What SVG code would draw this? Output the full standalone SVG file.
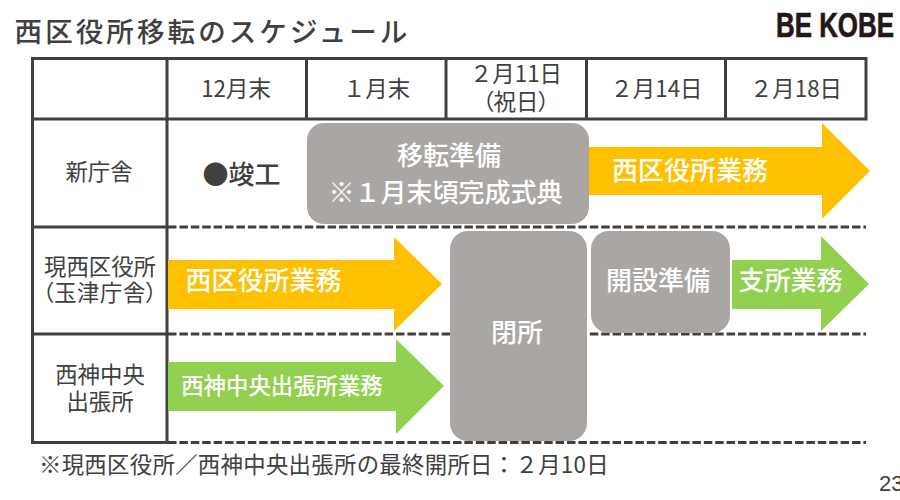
<svg xmlns="http://www.w3.org/2000/svg" width="900" height="500" viewBox="0 0 900 500">
<style>
text{font-family:"Noto Sans CJK JP","Noto Sans",sans-serif;text-anchor:middle}
.grid{stroke:#404040;stroke-width:3;fill:none}
.dash{stroke:#404040;stroke-width:3;fill:none;stroke-dasharray:8.5 2.9}
.gray{fill:#AAA6A4}
.yellow{fill:#FFC000}
.green{fill:#92D050}
.d{fill:#404040;font-size:22.4px}
.w{fill:#fff;font-weight:500;font-size:26px}
</style>
<rect width="900" height="500" fill="#fff"/>
<g id="title"><text x="212.5" y="42" style="font-size:27.5px;letter-spacing:3.1px;font-weight:500;fill:#404040">西区役所移転のスケジュール</text></g>
<g id="logo"><text transform="translate(835 36.7) scale(.74 1)" x="0" y="0" style="font-family:'Liberation Sans',sans-serif;font-weight:700;font-size:35px;fill:#231815;stroke:#231815;stroke-width:.7">BE KOBE</text></g>
<g id="connectors">
<path class="grid" d="M32.5 58.5H866V119H32.5ZM32.5 58.5V442.5H168M167 58.5V442.5M306.5 58.5V119M446 58.5V119M586.5 58.5V119M725.5 58.5V119M32.5 227H168M32.5 334H168"/>
<path class="dash" d="M168 227H866M168 334H866M168 442.5H866"/>
</g>
<g id="head-12"><text class="d" x="236" y="97">12月末</text></g>
<g id="head-1"><text class="d" x="376.5" y="97">１月末</text></g>
<g id="head-211"><text class="d" x="516" y="82">２月11日</text><text class="d" x="516" y="110" style="font-feature-settings:'palt'">（祝日）</text></g>
<g id="head-214"><text class="d" x="656.5" y="97">２月14日</text></g>
<g id="head-218"><text class="d" x="796" y="97">２月18日</text></g>
<g id="row-new"><text class="d" x="99" y="180">新庁舎</text></g>
<g id="row-current"><text class="d" x="100" y="275">現西区役所</text><text class="d" x="100" y="301" style="font-feature-settings:'palt';letter-spacing:.5px">（玉津庁舎）</text></g>
<g id="row-nishi"><text class="d" x="100" y="383">西神中央</text><text class="d" x="100" y="410">出張所</text></g>
<g id="complete"><text x="241.5" y="184" style="font-size:26px;fill:#404040;font-weight:500">●竣工</text></g>
<g id="prep"><rect class="gray" x="307" y="123" width="282" height="101" rx="17"/><text class="w" x="449" y="165">移転準備</text><text class="w" x="445.5" y="202">※１月末頃完成式典</text></g>
<g id="arrow-new"><path class="yellow" d="M589 147H822V123L870 171L822 219V195H589Z"/><text class="w" x="690" y="180">西区役所業務</text></g>
<g id="arrow-current"><path class="yellow" d="M168 260H394V237L442 284L394 331V309H168Z"/><text class="w" x="263.5" y="290">西区役所業務</text></g>
<g id="arrow-nishi"><path class="green" d="M168 362H396V339L444 386L396 434V411H168Z"/><text class="w" x="282" y="394" style="font-size:22.4px">西神中央出張所業務</text></g>
<g id="closed"><rect class="gray" x="450" y="231" width="137" height="210" rx="18"/><text class="w" x="517" y="342">閉所</text></g>
<g id="open-prep"><rect class="gray" x="591" y="231" width="139" height="102" rx="18"/><text class="w" x="658" y="290">開設準備</text></g>
<g id="arrow-branch"><path class="green" d="M732 260H821V236L869 284L821 331V309H732Z"/><text class="w" x="790.5" y="290">支所業務</text></g>
<g id="note"><text x="324" y="473" style="font-size:22.4px;letter-spacing:.3px;fill:#404040">※現西区役所／西神中央出張所の最終開所日：２月10日</text></g>
<g id="page"><text x="879" y="491" style="text-anchor:start;font-family:'Liberation Sans',sans-serif;font-size:22px;fill:#404040">23</text></g>
</svg>
